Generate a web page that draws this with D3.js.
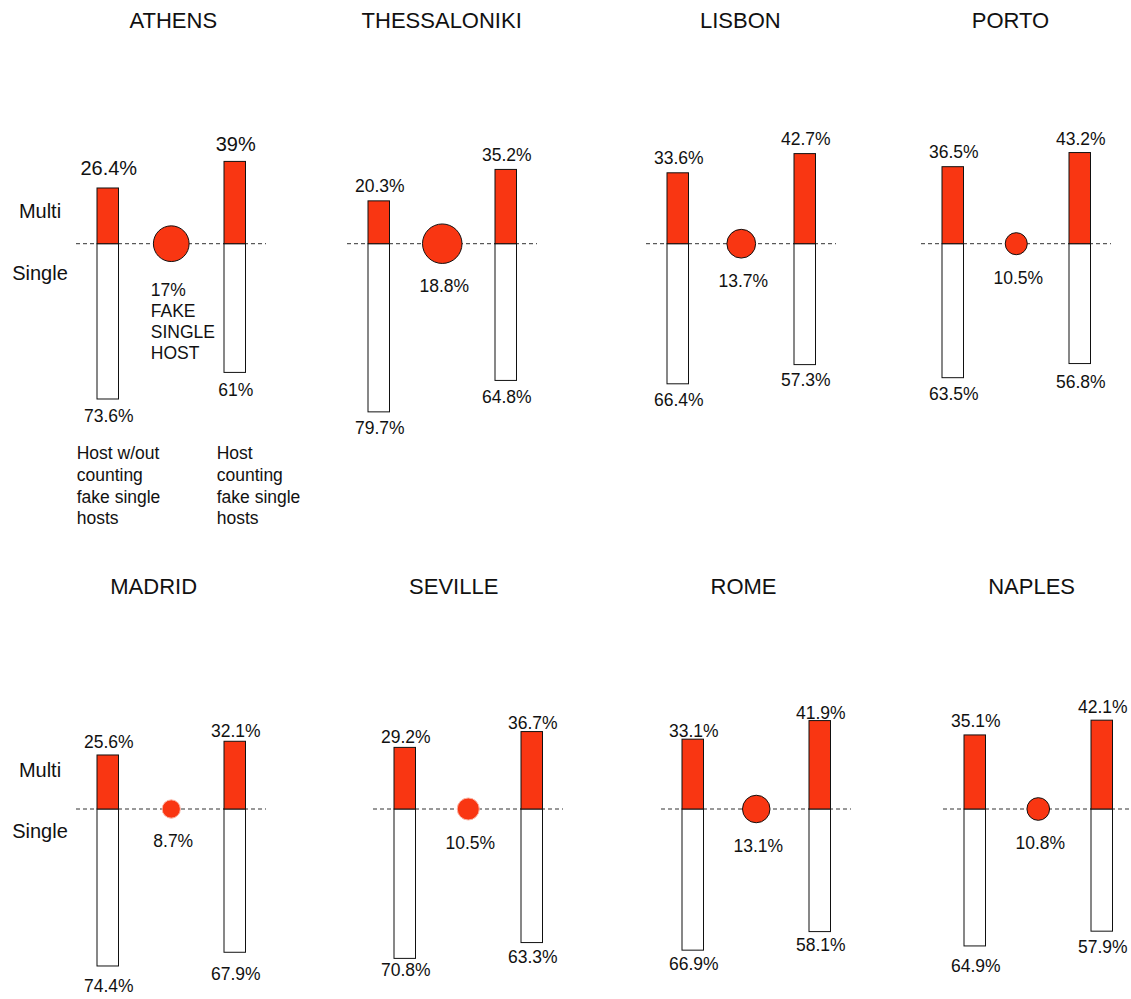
<!DOCTYPE html>
<html>
<head>
<meta charset="utf-8">
<script src="https://cdn.jsdelivr.net/npm/d3@7"></script>
<style>
  html, body { margin: 0; padding: 0; background: #fff; }
  svg { display: block; }
  text { font-family: "Liberation Sans", Arial, Helvetica, sans-serif; fill: #111; }
</style>
</head>
<body>
<script>
// ---- data ----
const cities = ["ATHENS", "THESSALONIKI", "LISBON", "PORTO", "MADRID", "SEVILLE", "ROME", "NAPLES"];
const multiWithout  = [26.4, 20.3, 33.6, 36.5, 25.6, 29.2, 33.1, 35.1];
const singleWithout = [73.6, 79.7, 66.4, 63.5, 74.4, 70.8, 66.9, 64.9];
const multiWith     = [39, 35.2, 42.7, 43.2, 32.1, 36.7, 41.9, 42.1];
const singleWith    = [61, 64.8, 57.3, 56.8, 67.9, 63.3, 58.1, 57.9];
const fakeSingle    = [17, 18.8, 13.7, 10.5, 8.7, 10.5, 13.1, 10.8];
const rowLabels     = ["Multi", "Single"];
const fakeNote      = ["FAKE", "SINGLE", "HOST"];
const legendLeft    = ["Host w/out", "counting", "fake single", "hosts"];
const legendRight   = ["Host", "counting", "fake single", "hosts"];

// ---- layout (positions / styles only) ----
const W = 1131, H = 999;
const RED = "#f93612";
const rowBase = [243.7, 809];
const rowTitleY = [28, 594];
const layout = [
  { x0: 76,  row: 0, titleX: 173.3,  top: [13, 10.7], bot: [23, 23.6], outline: true,  big: true },
  { x0: 347, row: 0, titleX: 441.7,  top: [8.6, 8.4], bot: [22, 22.9], outline: true },
  { x0: 646, row: 0, titleX: 740.3,  top: [8.5, 8.6], bot: [22.2, 21.4], outline: true },
  { x0: 921, row: 0, titleX: 1010.5, top: [8.4, 7.5], bot: [22.3, 24.8], outline: true },
  { x0: 76,  row: 1, titleX: 153.7,  top: [6.7, 4.6], bot: [25.7, 27.7], outline: false },
  { x0: 373, row: 1, titleX: 453.7,  top: [4.7, 2.3], bot: [17.6, 20.1], outline: false },
  { x0: 661, row: 1, titleX: 743.5,  top: [1.9, 1.3], bot: [19.8, 19.1], outline: true },
  { x0: 943, row: 1, titleX: 1031.6, top: [7.6, 7.5], bot: [25.8, 21.5], outline: true }
];

const barW = 21.5;
const h = d3.scaleLinear().domain([0, 100]).range([0, 211]);
const r = d3.scaleLinear().domain([0, 20]).range([0, 21]);
const xIn = d3.scalePoint().domain(["without", "fake", "with"]).range([31.75, 158.75]);
const fmt = v => String(Math.round(v * 10) / 10) + "%";

const svg = d3.select("body").append("svg").attr("width", W).attr("height", H);
svg.append("rect").attr("width", W).attr("height", H).attr("fill", "#fff");

cities.forEach((city, i) => {
  const L = layout[i];
  const base = rowBase[L.row];
  const g = svg.append("g");
  const lblSize = L.big ? 20 : 17.5;

  // title
  g.append("text").attr("x", L.titleX).attr("y", rowTitleY[L.row])
    .attr("text-anchor", "middle").attr("font-size", 22).text(city);

  // dashed baseline
  g.append("line").attr("x1", L.x0).attr("x2", Math.min(L.x0 + 190, W))
    .attr("y1", base).attr("y2", base)
    .attr("stroke", "#333").attr("stroke-width", 1).attr("stroke-dasharray", "4,3");

  const bars = [
    { key: "without", multi: multiWithout[i], single: singleWithout[i], k: 0 },
    { key: "with",    multi: multiWith[i],    single: singleWith[i],    k: 1 }
  ];
  bars.forEach(b => {
    const cx = L.x0 + xIn(b.key);
    const bx = cx - barW / 2;
    g.append("rect").attr("x", bx).attr("y", base).attr("width", barW).attr("height", h(b.single))
      .attr("fill", "#fff").attr("stroke", "#111").attr("stroke-width", 1);
    g.append("rect").attr("x", bx).attr("y", base - h(b.multi)).attr("width", barW).attr("height", h(b.multi))
      .attr("fill", RED).attr("stroke", "#111").attr("stroke-width", 1);
    g.append("text").attr("x", cx + 1).attr("y", base - h(b.multi) - L.top[b.k])
      .attr("text-anchor", "middle").attr("font-size", lblSize).text(fmt(b.multi));
    g.append("text").attr("x", cx + 1).attr("y", base + h(b.single) + L.bot[b.k])
      .attr("text-anchor", "middle").attr("font-size", 17.5).text(fmt(b.single));
  });

  // fake single host circle
  const ccx = L.x0 + xIn("fake");
  const rr = r(fakeSingle[i]);
  g.append("circle").attr("cx", ccx).attr("cy", base).attr("r", rr)
    .attr("fill", RED)
    .attr("stroke", L.outline ? "#111" : "#fbb4a4")
    .attr("stroke-width", 1);

  if (L.big) {
    const lines = [fmt(fakeSingle[i])].concat(fakeNote);
    lines.forEach((t, j) => {
      g.append("text").attr("x", ccx - 20.5).attr("y", base + 52 + j * 21.2)
        .attr("font-size", 17.5).text(t);
    });
  } else {
    g.append("text").attr("x", ccx + 2).attr("y", base + rr + 29)
      .attr("text-anchor", "middle").attr("font-size", 17.5).text(fmt(fakeSingle[i]));
  }
});

// row labels Multi / Single (first column)
const rowLabelOffsets = [[-25.7, 36.3], [-32, 29]];
rowBase.forEach((base, ri) => {
  rowLabels.forEach((t, j) => {
    svg.append("text").attr("x", 40).attr("y", base + rowLabelOffsets[ri][j])
      .attr("text-anchor", "middle").attr("font-size", 20).text(t);
  });
});

// legend under Athens
[[legendLeft, 76.7], [legendRight, 216.7]].forEach(([lines, x]) => {
  lines.forEach((t, j) => {
    svg.append("text").attr("x", x).attr("y", 459 + j * 21.8)
      .attr("font-size", 17.5).text(t);
  });
});
</script>
</body>
</html>
